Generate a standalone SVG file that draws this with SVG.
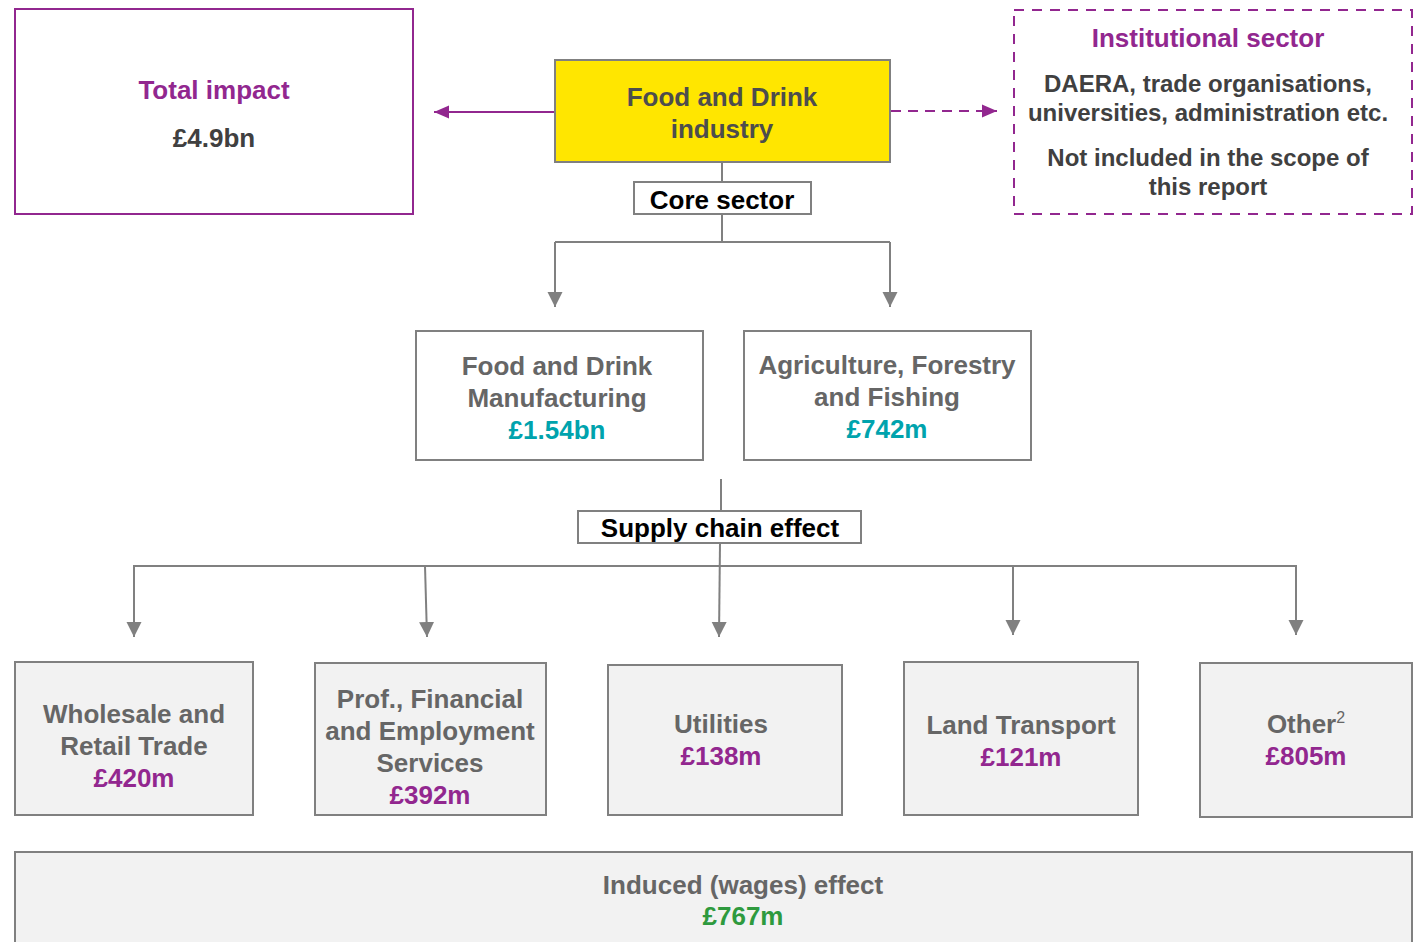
<svg xmlns="http://www.w3.org/2000/svg" width="1414" height="942" viewBox="0 0 1414 942">
<style>
text{font-family:"Liberation Sans",Arial,sans-serif;font-weight:bold;text-anchor:middle;font-size:26px}
.gbox{fill:#F2F2F2;stroke:#808080;stroke-width:2}
.wbox{fill:#FFFFFF;stroke:#808080;stroke-width:2}
.g{fill:#666666}
.d{fill:#4D4D4D}
.p{fill:#92278F}
.t{fill:#00A3AD}
.gr{fill:#2E9A3E}
.k{fill:#000000}
.conn{fill:none;stroke:#808080;stroke-width:2}
.sm{font-size:24px}
</style>
<defs>
<marker id="ag" markerUnits="userSpaceOnUse" markerWidth="18" markerHeight="18" viewBox="0 0 18 18" refX="15" refY="9" orient="auto">
<path d="M0,1.5 L15,9 L0,16.5 Z" fill="#808080"/>
</marker>
<marker id="ap" markerUnits="userSpaceOnUse" markerWidth="16" markerHeight="16" viewBox="0 0 16 16" refX="15" refY="8" orient="auto">
<path d="M0,1.5 L15,8 L0,14.5 Z" fill="#92278F"/>
</marker>
</defs>

<g id="connectors">
<path d="M555,112 L434,112" stroke="#92278F" stroke-width="2" fill="none" marker-end="url(#ap)"/>
<path d="M891,111 L997,111" stroke="#92278F" stroke-width="2" fill="none" stroke-dasharray="10,7" marker-end="url(#ap)"/>
<path class="conn" d="M722,162 L722,182"/>
<path class="conn" d="M722,214 L722,242 M555,242 L890,242"/>
<path class="conn" d="M555,242 L555,307" marker-end="url(#ag)"/>
<path class="conn" d="M890,242 L890,307" marker-end="url(#ag)"/>
<path class="conn" d="M721,479 L721,511"/>
<path class="conn" d="M133,566 L1297,566"/>
<path class="conn" d="M720,543 L719,637" marker-end="url(#ag)"/>
<path class="conn" d="M134,566 L134,637" marker-end="url(#ag)"/>
<path class="conn" d="M425,566 L427,637" marker-end="url(#ag)"/>
<path class="conn" d="M1013,566 L1013,635" marker-end="url(#ag)"/>
<path class="conn" d="M1296,566 L1296,635" marker-end="url(#ag)"/>
</g>

<g id="total-impact">
<rect x="15" y="9" width="398" height="205" fill="#FFFFFF" stroke="#92278F" stroke-width="2"/>
<text x="214" y="99" class="p">Total impact</text>
<text x="214" y="147" fill="#404040">£4.9bn</text>
</g>

<g id="food-drink-industry">
<rect x="555" y="60" width="335" height="102" fill="#FFE600" stroke="#808080" stroke-width="2"/>
<text x="722" y="106" class="d">Food and Drink</text>
<text x="722" y="138" class="d">industry</text>
</g>

<g id="institutional-sector">
<rect x="1014" y="10" width="398" height="204" fill="#FFFFFF" stroke="#92278F" stroke-width="2" stroke-dasharray="10,8"/>
<text x="1208" y="47" class="p">Institutional sector</text>
<text x="1208" y="92" fill="#404040" class="sm">DAERA, trade organisations,</text>
<text x="1208" y="121" fill="#404040" class="sm">universities, administration etc.</text>
<text x="1208" y="166" fill="#404040" class="sm">Not included in the scope of</text>
<text x="1208" y="195" fill="#404040" class="sm">this report</text>
</g>

<g id="core-sector">
<rect x="634" y="182" width="177" height="32" class="wbox"/>
<text x="722" y="209" class="k">Core sector</text>
</g>

<g id="manufacturing">
<rect x="416" y="331" width="287" height="129" class="wbox"/>
<text x="557" y="375" class="g">Food and Drink</text>
<text x="557" y="407" class="g">Manufacturing</text>
<text x="557" y="439" class="t">£1.54bn</text>
</g>

<g id="agriculture">
<rect x="744" y="331" width="287" height="129" class="wbox"/>
<text x="887" y="374" class="g">Agriculture, Forestry</text>
<text x="887" y="406" class="g">and Fishing</text>
<text x="887" y="438" class="t">£742m</text>
</g>

<g id="supply-chain">
<rect x="578" y="511" width="283" height="32" class="wbox"/>
<text x="720" y="537" class="k">Supply chain effect</text>
</g>

<g id="wholesale">
<rect x="15" y="662" width="238" height="153" class="gbox"/>
<text x="134" y="723" class="g">Wholesale and</text>
<text x="134" y="755" class="g">Retail Trade</text>
<text x="134" y="787" class="p">£420m</text>
</g>

<g id="prof-services">
<rect x="315" y="663" width="231" height="152" class="gbox"/>
<text x="430" y="708" class="g">Prof., Financial</text>
<text x="430" y="740" class="g">and Employment</text>
<text x="430" y="772" class="g">Services</text>
<text x="430" y="804" class="p">£392m</text>
</g>

<g id="utilities">
<rect x="608" y="665" width="234" height="150" class="gbox"/>
<text x="721" y="733" class="g">Utilities</text>
<text x="721" y="765" class="p">£138m</text>
</g>

<g id="land-transport">
<rect x="904" y="662" width="234" height="153" class="gbox"/>
<text x="1021" y="734" class="g">Land Transport</text>
<text x="1021" y="766" class="p">£121m</text>
</g>

<g id="other">
<rect x="1200" y="663" width="212" height="154" class="gbox"/>
<text x="1306" y="733" class="g">Other<tspan font-size="16" font-weight="normal" dy="-10">2</tspan></text>
<text x="1306" y="765" class="p">£805m</text>
</g>

<g id="induced">
<rect x="15" y="852" width="1397" height="110" class="gbox"/>
<text x="743" y="894" class="g">Induced (wages) effect</text>
<text x="743" y="925" class="gr">£767m</text>
</g>
</svg>
